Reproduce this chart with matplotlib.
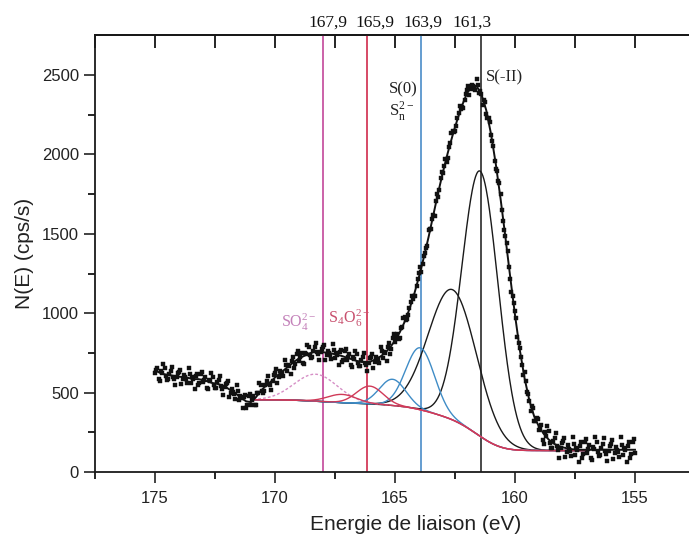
import numpy as np
import matplotlib
matplotlib.use("Agg")
import matplotlib.pyplot as plt
import matplotlib.transforms as mtrans

plt.rcParams['font.family'] = ['Liberation Sans', 'DejaVu Sans']
plt.rcParams['mathtext.fontset'] = 'stix'

# ---------------- data ----------------
# measured points, scan A: binding energy 175.0 -> 155.0 eV, step 0.1
scanA_start, scanA_stop = 175.0, 155.0
scanA_counts = [
    625, 657, 575, 625, 655, 582, 620, 662, 585, 597,
    630, 554, 613, 585, 652, 563, 585, 605, 545, 617,
    565, 600, 520, 570, 600, 527, 565, 605, 525, 533,
    560, 475, 525, 490, 550, 453, 465, 475, 405, 477,
    425, 480, 420, 495, 550, 495, 550, 607, 545, 575,
    625, 563, 635, 622, 705, 633, 670, 702, 655, 740,
    700, 747, 680, 743, 785, 720, 765, 813, 740, 753,
    785, 707, 765, 738, 805, 717, 738, 754, 690, 760,
    705, 740, 660, 710, 740, 666, 703, 747, 672, 689,
    727, 658, 725, 709, 788, 715, 752, 788, 745, 841,
    818, 872, 845, 916, 973, 964, 1032, 1110, 1106, 1171,
    1251, 1258, 1360, 1408, 1522, 1532, 1620, 1704, 1732, 1850,
    1880, 1968, 1975, 2069, 2148, 2149, 2227, 2303, 2296, 2344,
    2406, 2376, 2440, 2423, 2472, 2387, 2380, 2344, 2252, 2230,
    2120, 2053, 1905, 1834, 1748, 1579, 1487, 1393, 1216, 1106,
    1011, 848, 780, 673, 632, 502, 450, 414, 322, 343,
    265, 295, 175, 229, 257, 153, 193, 244, 139, 153,
    194, 92, 168, 132, 221, 108, 140, 166, 88, 186,
    120, 173, 75, 147, 192, 101, 153, 212, 114, 133,
    179, 81, 160, 127, 218, 107, 140, 166, 88, 186,
    120,
]
# measured points, scan B: 174.95 -> 155.05 eV, step 0.1
scanB_start, scanB_stop = 174.95, 155.05
scanB_counts = [
    641, 588, 637, 677, 603, 586, 638, 601, 548, 621,
    644, 583, 596, 558, 615, 596, 525, 620, 563, 631,
    582, 532, 582, 622, 548, 531, 582, 542, 486, 554,
    570, 500, 505, 460, 509, 481, 400, 485, 423, 491,
    452, 422, 495, 560, 507, 507, 576, 553, 517, 608,
    646, 599, 626, 603, 676, 674, 616, 723, 680, 760,
    723, 686, 749, 801, 737, 727, 786, 754, 704, 776,
    798, 736, 749, 711, 768, 750, 676, 767, 707, 772,
    722, 672, 722, 762, 688, 669, 722, 687, 638, 715,
    745, 691, 714, 688, 759, 756, 700, 811, 775, 867,
    845, 839, 906, 970, 958, 987, 1069, 1092, 1109, 1216,
    1292, 1310, 1382, 1422, 1533, 1592, 1613, 1750, 1778, 1892,
    1924, 1952, 2047, 2134, 2138, 2177, 2263, 2283, 2291, 2380,
    2428, 2409, 2430, 2405, 2436, 2399, 2313, 2330, 2228, 2203,
    2086, 1960, 1895, 1817, 1653, 1522, 1439, 1288, 1132, 1064,
    967, 815, 725, 610, 573, 492, 383, 400, 320, 336,
    280, 199, 251, 291, 185, 153, 215, 161, 90, 183,
    212, 129, 146, 98, 175, 153, 62, 186, 114, 205,
    147, 88, 160, 218, 127, 107, 179, 133, 68, 166,
    199, 120, 140, 94, 173, 153, 62, 186, 114, 205,
]

# envelope (fit sum / smoothed trace), 175.0 -> 155.0 eV, step 0.2
env_counts = [
    640, 625, 615, 610, 605, 600, 598, 592, 585, 585,
    580, 570, 560, 555, 545, 530, 510, 490, 465, 445,
    440, 470, 510, 540, 565, 595, 620, 645, 670, 695,
    715, 730, 745, 755, 760, 755, 750, 745, 738, 730,
    720, 710, 700, 693, 692, 697, 710, 728, 752, 785,
    828, 880, 945, 1025, 1120, 1230, 1350, 1480, 1620, 1760,
    1890, 2010, 2120, 2220, 2310, 2385, 2430, 2430, 2380, 2280,
    2130, 1940, 1720, 1480, 1230, 990, 770, 590, 450, 350,
    285, 240, 205, 180, 165, 155, 148, 143, 140, 140,
    140, 140, 140, 140, 140, 140, 140, 140, 140, 140,
    140,
]

# fitted components (S 2p): centre (eV), height above background, sigma (eV)
comp_centre = [161.45, 162.6, 163.95, 165.1, 166.05, 167.2, 168.3]
comp_height = [1670, 820, 390, 165, 112, 52, 170]
comp_sigma = [0.75, 1.0, 0.6, 0.55, 0.55, 0.6, 0.9]
comp_kind = ['S(-II)', 'S(-II)', 'S(0)', 'S(0)', 'S4O6', 'S4O6', 'SO4']
bg_high, bg_low = 455, 135
fit_range = (170.9, 157.0)

# reference lines
line_energy = [168.0, 166.15, 163.9, 161.4]
line_label = ['167,9', '165,9', '163,9', '161,3']

# ---------------- drawing ----------------
fig = plt.figure(figsize=(6.89, 5.38), dpi=100)
ax = fig.add_axes([95/689, 66/538, 0.93, 437/538])

xA = np.linspace(scanA_start, scanA_stop, len(scanA_counts))
xB = np.linspace(scanB_start, scanB_stop, len(scanB_counts))
x_env = np.linspace(scanA_start, scanA_stop, len(env_counts))

# components on a Shirley-type background
xf = np.linspace(fit_range[0], fit_range[1], 600)
gauss = [h * np.exp(-0.5 * ((xf - c) / s) ** 2)
         for c, h, s in zip(comp_centre, comp_height, comp_sigma)]
total = np.sum(gauss, axis=0)
cum = np.cumsum(total[::-1])[::-1]
cum = cum - cum[-1]
frac = 1 - cum / cum[0]
bg = bg_high - (bg_high - bg_low) * frac

kind_style = {
    'S(-II)': dict(color='#1a1a1a', lw=1.0, ls='-'),
    'S(0)': dict(color='#3f8cc6', lw=1.0, ls='-'),
    'S4O6': dict(color='#d03a58', lw=1.0, ls='-'),
    'SO4': dict(color='#d68fc6', lw=1.0, ls=(0, (2, 1.5))),
}
for i in [0, 1, 2, 3, 6, 4, 5]:
    ax.plot(xf, bg + gauss[i], zorder=3, **kind_style[comp_kind[i]])

vcolors = ['#c2479a', '#d02a4c', '#4a8cc8', '#2a2a2a']
for e, col in zip(line_energy, vcolors):
    ax.axvline(e, color=col, lw=1.2, zorder=2)

for xs, ys in [(xA, scanA_counts), (xB, scanB_counts)]:
    ax.plot(xs, ys, ls='none', marker='s', ms=2.3, mfc='#111111',
            mec='#111111', mew=0.3, zorder=4)
ax.plot(x_env, env_counts, color='#111111', lw=1.4, zorder=5)

ax.set_xlim(177.5, 150.8)
ax.set_ylim(0, 2752)

ax.set_xticks([175, 170, 165, 160, 155])
ax.set_xticks(np.arange(152.5, 177.6, 2.5), minor=True)
ax.set_yticks([0, 500, 1000, 1500, 2000, 2500])
ax.set_yticks(np.arange(250, 2750, 500), minor=True)
ax.tick_params(axis='both', which='major', direction='out', length=8, width=1.2,
               labelsize=12, colors='#222222')
ax.tick_params(axis='both', which='minor', direction='out', length=5, width=1.2)
ax.tick_params(axis='x', pad=6)
ax.spines['right'].set_visible(False)
for s in ['left', 'bottom', 'top']:
    ax.spines[s].set_linewidth(1.3)
    ax.spines[s].set_color('#1a1a1a')

sec = ax.secondary_xaxis('top')
sec.set_xticks(np.arange(152.5, 177.6, 2.5))
sec.set_xticklabels([])
sec.tick_params(direction='in', length=9, width=1.2)
sec.spines['top'].set_linewidth(1.3)

ax.set_xlabel('Energie de liaison (eV)', fontsize=15, color='#222222', labelpad=6)
ax.set_ylabel('N(E) (cps/s)', fontsize=15, color='#222222', labelpad=6)

offs = [5, 8, 2, -9]
for e, lab, o in zip(line_energy, line_label, offs):
    tr = ax.get_xaxis_transform() + mtrans.ScaledTranslation(o / 100, 4 / 100, fig.dpi_scale_trans)
    ax.text(e, 1.0, lab, transform=tr, ha='center', va='bottom',
            family=['Liberation Serif'], fontsize=12.5, color='#111111')

serif = ['Liberation Serif', 'DejaVu Serif']
ax.text(161.2, 2487, 'S(-II)', family=serif, fontsize=12, color='#222222',
        ha='left', va='center')
ax.text(165.25, 2412, 'S(0)', family=serif, fontsize=12, color='#222222',
        ha='left', va='center')
ax.text(165.25, 2273, r'S$_{\mathregular{n}}^{\mathregular{2-}}$', family=serif, fontsize=12,
        color='#222222', ha='left', va='center')
ax.text(169.0, 945, r'SO$_{\mathregular{4}}^{\mathregular{2-}}$', family=serif, fontsize=11.5,
        color='#c482ba', ha='center', va='center')
ax.text(166.9, 970, r'S$_{\mathregular{4}}$O$_{\mathregular{6}}^{\mathregular{2-}}$', family=serif,
        fontsize=11.5, color='#c8506e', ha='center', va='center')

fig.savefig('out.png', dpi=100)
